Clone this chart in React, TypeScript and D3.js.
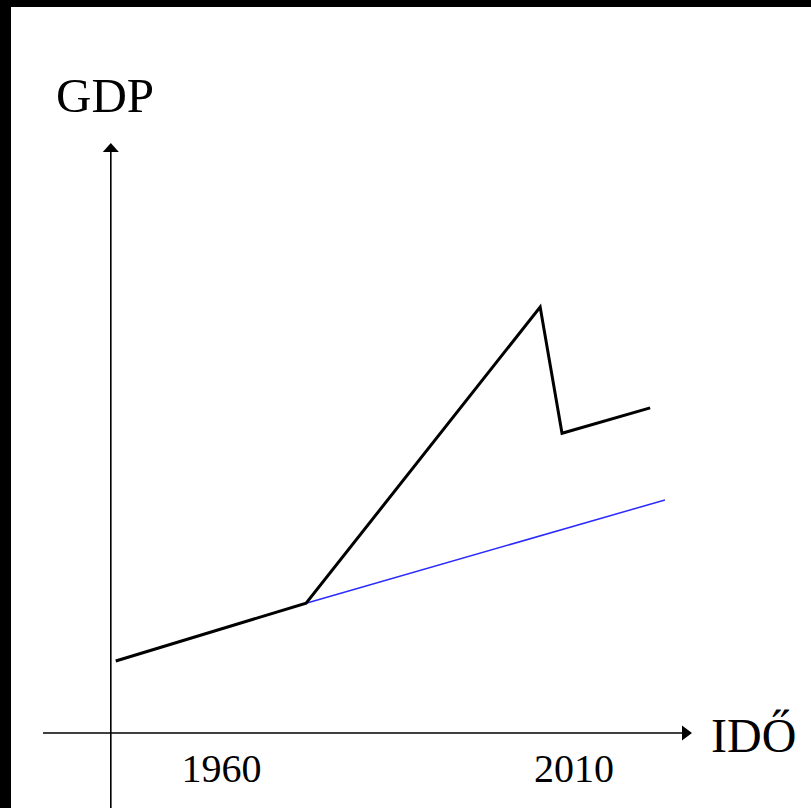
import React from 'react';
import { scaleLinear, line } from 'd3';

// GDP path (years, abstract GDP units)
const actualYears = [1945, 1972, 2005.2, 2008.3, 2020.8];
const actualGdp = [12.2, 22, 72.2, 50.8, 55.1];
const trendYears = [1972, 2022.9];
const trendGdp = [22, 39.5];
const tickYears = [1960, 2010];

const W = 811;
const H = 808;

export default function App() {
    const x = scaleLinear().domain([1960, 2010]).range([221.5, 574]);
    const y = scaleLinear().domain([0, 100]).range([733, 143]);

    const axisX = x(1944.3);
    const axisY = y(0);

    const path = line<[number, number]>()
        .x(d => x(d[0]))
        .y(d => y(d[1]));

    const actual = actualYears.map((yr, i) => [yr, actualGdp[i]] as [number, number]);
    const trend = trendYears.map((yr, i) => [yr, trendGdp[i]] as [number, number]);

    const font = "'Liberation Serif', 'Times New Roman', serif";
    const xEnd = 692;
    const yTop = y(100);

    return (
        <>
            <style>{`body{margin:0}`}</style>
            <svg width={W} height={H} style={{ display: 'block', background: '#fff' }}>
                {/* black frame on top/left */}
                <rect x={0} y={0} width={W} height={7} fill="#000" />
                <rect x={0} y={0} width={11} height={H} fill="#000" />

                {/* axes */}
                <line x1={43} x2={xEnd - 6} y1={axisY} y2={axisY} stroke="#000" strokeWidth={1.6} />
                <path d={`M${xEnd},${axisY} L${xEnd - 10},${axisY - 7.5} L${xEnd - 10},${axisY + 7.5} Z`} fill="#000" />
                <line x1={axisX} x2={axisX} y1={yTop + 6} y2={H} stroke="#000" strokeWidth={1.6} />
                <path d={`M${axisX},${yTop} L${axisX - 8},${yTop + 9} L${axisX + 8},${yTop + 9} Z`} fill="#000" />

                {/* series */}
                <path d={path(trend) || ''} fill="none" stroke="#2a2aff" strokeWidth={1.5} />
                <path d={path(actual) || ''} fill="none" stroke="#000" strokeWidth={3} strokeLinejoin="miter" />

                {/* labels */}
                <text x={56} y={112} fontFamily={font} fontSize={49} fill="#000">GDP</text>
                <text x={711} y={752} fontFamily={font} fontSize={48} fill="#000">IDŐ</text>
                {tickYears.map(t => (
                    <text key={t} x={x(t)} y={782} textAnchor="middle" fontFamily={font} fontSize={40} fill="#000">{t}</text>
                ))}
            </svg>
        </>
    );
}
